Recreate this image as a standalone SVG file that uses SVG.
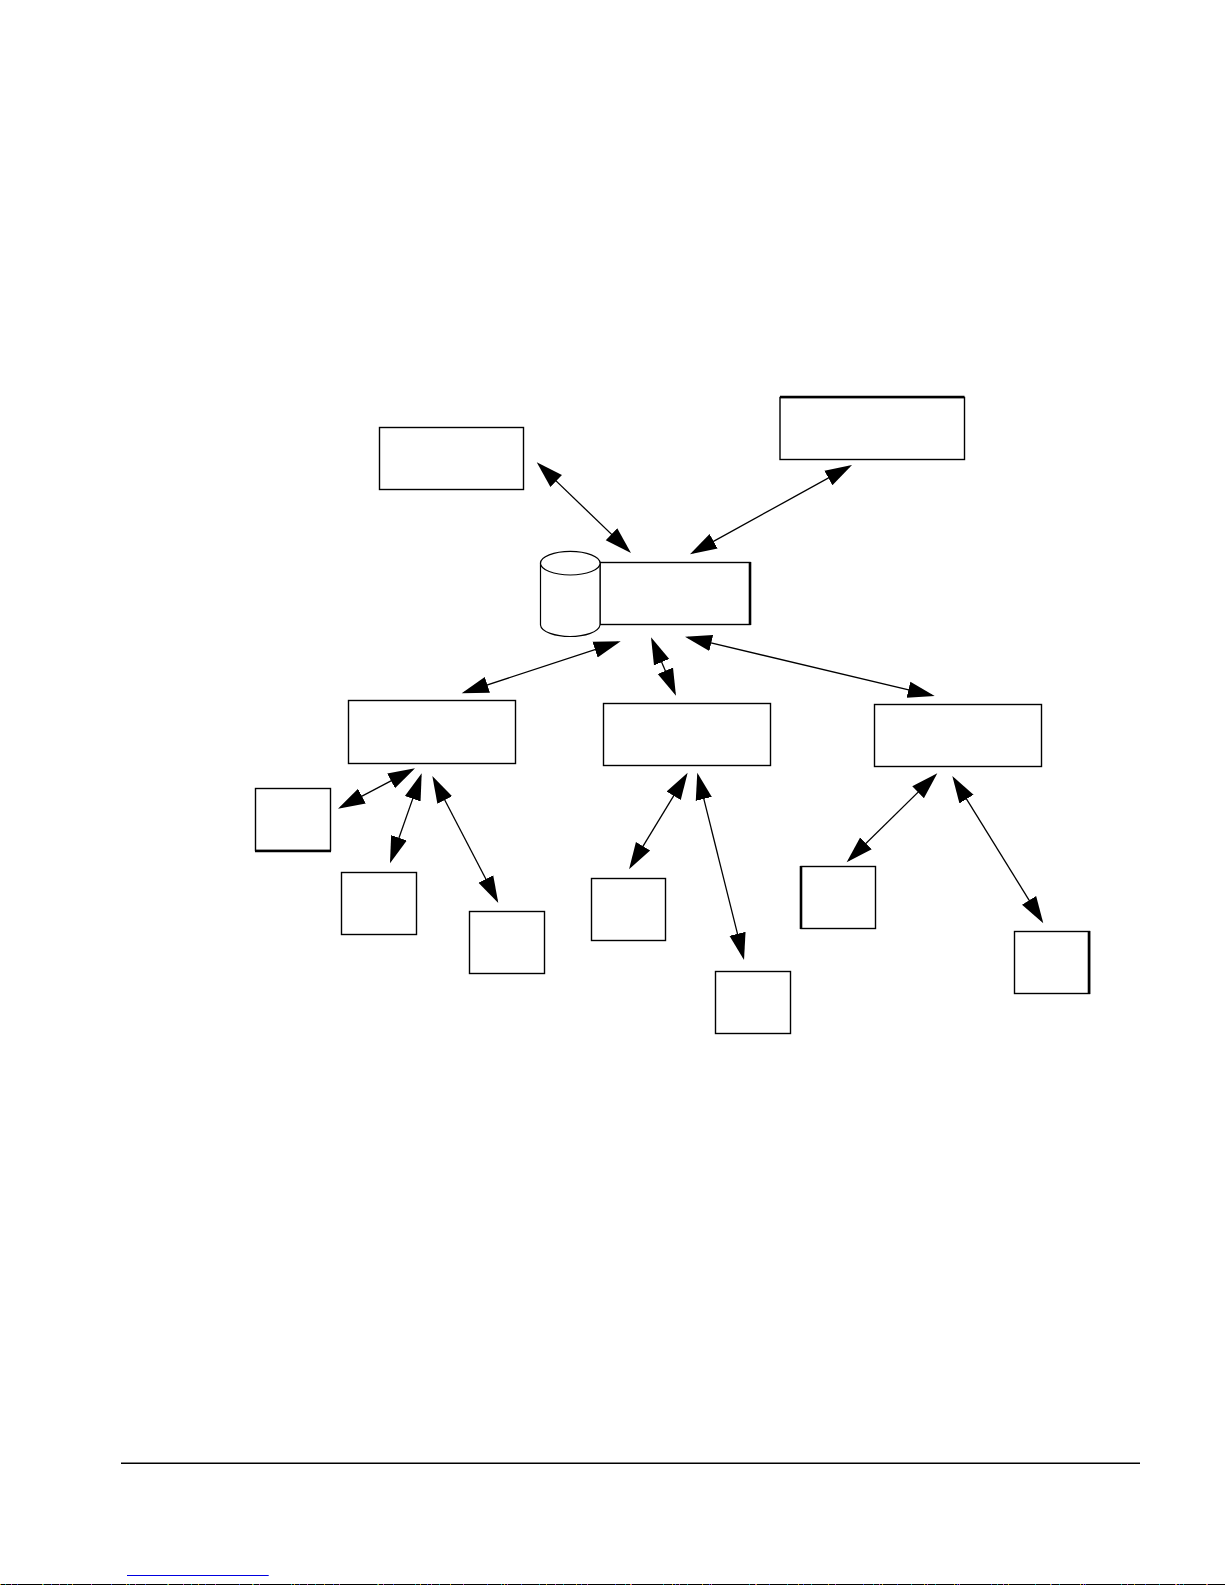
<svg xmlns="http://www.w3.org/2000/svg" width="1225" height="1585" viewBox="0 0 1225 1585">
<style>
.box{fill:#fff;stroke:#000;stroke-width:1.4}
.thick{fill:none;stroke:#000;stroke-width:2.6}
.cyl{fill:#fff;stroke:#000;stroke-width:1.2}
.conn{fill:none;stroke:#000;stroke-width:1.3;marker-start:url(#head);marker-end:url(#head)}
.speck{fill:none;stroke-width:1}
</style>
<defs>
<marker id="head" markerUnits="userSpaceOnUse" markerWidth="28" markerHeight="20" refX="24" refY="10" orient="auto-start-reverse" viewBox="0 0 28 20">
<path d="M0,1.7 L27,10 L0,18.3 z" fill="#000"/>
</marker>
</defs>
<rect width="1225" height="1585" fill="#fff"/>
<g id="connectors">
<line class="conn" x1="538.9" y1="464.4" x2="628.8" y2="550.9"/>
<line class="conn" x1="849.4" y1="466.4" x2="692.6" y2="552.9"/>
<line class="conn" x1="617.85" y1="642.23" x2="464.55" y2="692.37"/>
<line class="conn" x1="652.2" y1="640.1" x2="674.8" y2="692.9"/>
<line class="conn" x1="687.9" y1="637.4" x2="931.8" y2="695.3"/>
<line class="conn" x1="412.35" y1="769.7" x2="340.65" y2="807.3"/>
<line class="conn" x1="420.7" y1="776.1" x2="391" y2="860.5"/>
<line class="conn" x1="433.7" y1="778.7" x2="496.9" y2="900.3"/>
<line class="conn" x1="686.1" y1="775.3" x2="630.6" y2="866.7"/>
<line class="conn" x1="698" y1="775.6" x2="743.3" y2="957.1"/>
<line class="conn" x1="935.2" y1="775.4" x2="848.8" y2="860.2"/>
<line class="conn" x1="953.9" y1="778.6" x2="1041.7" y2="920.7"/>
</g>
<g id="node-top-left"><rect class="box" x="379.5" y="427.5" width="144" height="62"/></g>
<g id="node-top-right"><rect class="box" x="780" y="397.5" width="184.5" height="62"/><line class="thick" x1="780" y1="397" x2="964.5" y2="397"/></g>
<g id="node-center"><rect class="box" x="600" y="562.5" width="150" height="62"/><line class="thick" x1="750" y1="562" x2="750" y2="625"/></g>
<g id="node-cylinder">
<path class="cyl" d="M540.5,563 L540.5,625 C541,632 556,636.5 570,636.5 C585,636.5 599,632 600,625 L600,563 Z"/>
<ellipse class="cyl" cx="570.3" cy="563.2" rx="29.8" ry="11.8"/>
</g>
<g id="node-mid-left"><rect class="box" x="348.5" y="700.5" width="167" height="63"/></g>
<g id="node-mid-center"><rect class="box" x="603.5" y="703.5" width="167" height="62"/></g>
<g id="node-mid-right"><rect class="box" x="874.5" y="704.5" width="167" height="62"/></g>
<g id="node-a"><rect class="box" x="255.5" y="788.5" width="75" height="62"/><line class="thick" x1="255" y1="851" x2="331" y2="851"/></g>
<g id="node-b"><rect class="box" x="341.5" y="872.5" width="75" height="62"/></g>
<g id="node-c"><rect class="box" x="469.5" y="911.5" width="75" height="62"/></g>
<g id="node-d"><rect class="box" x="591.5" y="878.5" width="74" height="62"/></g>
<g id="node-e"><rect class="box" x="715.5" y="971.5" width="75" height="62"/></g>
<g id="node-f"><rect class="box" x="801" y="866.5" width="74.5" height="62"/><line class="thick" x1="801" y1="866" x2="801" y2="929"/></g>
<g id="node-g"><rect class="box" x="1014.5" y="931.5" width="75" height="62"/><line class="thick" x1="1089" y1="931" x2="1089" y2="994"/></g>
<line x1="121" y1="1463.3" x2="1140" y2="1463.3" stroke="#000" stroke-width="1.4"/>
<line x1="127" y1="1575.5" x2="268.7" y2="1575.5" stroke="#0000e0" stroke-width="1.2"/>
<g id="bottom-edge">
<line x1="0" y1="1584.5" x2="1225" y2="1584.5" stroke="#000" stroke-width="1"/>
<line class="speck" x1="0" y1="1584.5" x2="1225" y2="1584.5" stroke="#d0a000" stroke-dasharray="1 41 1 29 1 53"/>
<line class="speck" x1="5" y1="1584.5" x2="1225" y2="1584.5" stroke="#00a0a0" stroke-dasharray="1 37 1 23 1 61"/>
<line class="speck" x1="11" y1="1584.5" x2="1225" y2="1584.5" stroke="#c040c0" stroke-dasharray="1 47 1 31 1 43"/>
<line class="speck" x1="17" y1="1584.5" x2="1225" y2="1584.5" stroke="#3040e0" stroke-dasharray="1 33 1 59"/>
</g>
</svg>
